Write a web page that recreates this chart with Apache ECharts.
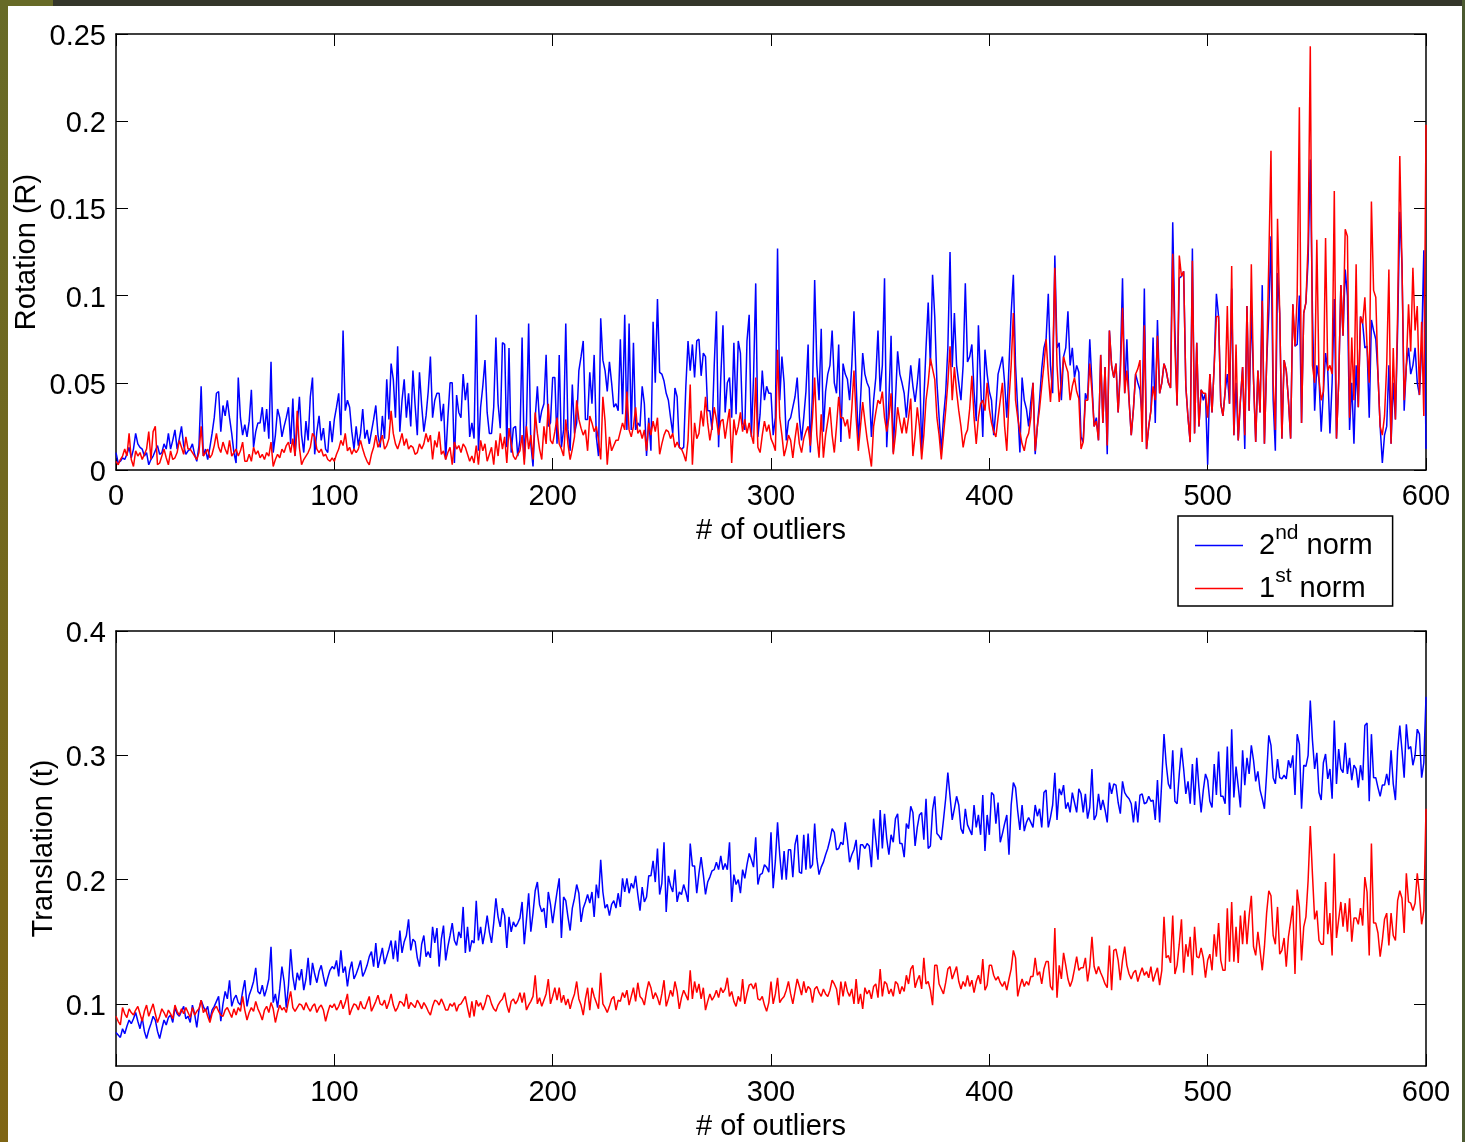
<!DOCTYPE html>
<html>
<head>
<meta charset="utf-8">
<title>Rotation / Translation vs outliers</title>
<script src="https://cdn.jsdelivr.net/npm/echarts@6/dist/echarts.min.js"></script>
<style>
  html, body { margin: 0; padding: 0; background: #fff; }
  #page { position: relative; width: 1465px; height: 1142px; background: #fff; overflow: hidden; }
  #main { position: absolute; left: 0; top: 0; width: 1465px; height: 1142px; }
  .edge { position: absolute; }
  #edgeTop { left: 0; top: 0; width: 1465px; height: 6px; background: #34362a; }
  #edgeCorner { left: 0; top: 0; width: 53px; height: 6px; background: #676a27; }
  #edgeLeft { left: 0; top: 0; width: 8px; height: 1142px; background: linear-gradient(#676a27, #7f6514); }
  #edgeRight { left: 1462px; top: 0; width: 3px; height: 1142px; background: #4b5a31; }
</style>
</head>
<body>
<div id="page">
  <div id="main"></div>
  <div class="edge" id="edgeTop"></div>
  <div class="edge" id="edgeCorner"></div>
  <div class="edge" id="edgeLeft"></div>
  <div class="edge" id="edgeRight"></div>
</div>
<script>
// values in thousandths, one per outlier count 0..600
// prettier-ignore
var rotation2nd = [
  10,4,5,7,6,9,13,7,12,21,15,13,12,8,10,3,6,8,11,14,
  9,10,15,12,21,12,17,23,12,18,25,14,9,11,12,15,9,5,14,48,
  8,12,6,13,21,30,44,45,22,37,31,40,30,21,10,4,53,30,20,26,
  19,28,46,13,22,27,27,36,22,35,18,62,10,20,35,30,19,25,30,36,
  15,41,8,25,42,20,10,28,17,42,53,9,22,31,17,24,12,10,28,16,
  29,36,44,20,80,34,40,36,22,12,25,14,21,35,18,23,15,22,29,37,
  20,13,31,18,52,29,61,52,30,71,22,40,52,30,44,25,57,37,20,56,
  37,22,31,45,65,30,40,44,44,28,38,6,30,50,50,4,43,33,30,55,
  40,50,19,27,18,89,11,36,48,63,33,21,21,36,76,38,24,73,72,13,
  70,10,24,25,8,17,76,6,27,84,15,2,30,48,27,34,38,66,25,27,
  53,53,15,66,13,23,84,23,11,49,21,27,57,65,74,29,29,56,38,66,
  19,8,87,63,57,45,62,50,36,38,34,75,32,89,23,84,23,73,23,27,
  25,48,38,8,30,11,85,50,98,56,55,51,44,40,30,21,47,42,13,12,
  13,48,74,57,72,53,74,75,54,67,65,34,34,23,60,91,13,53,83,33,
  50,53,30,73,32,74,67,27,23,74,89,19,53,107,19,32,57,40,48,44,
  44,20,30,127,40,65,50,17,28,30,36,42,53,30,17,30,45,72,10,45,
  109,60,40,81,22,45,55,60,80,50,44,72,16,61,55,52,40,60,91,50,
  16,40,67,55,50,47,19,40,53,80,45,60,110,13,40,77,10,40,68,55,
  50,44,30,45,60,48,39,50,64,11,40,70,96,60,112,88,50,30,11,30,
  44,70,125,59,90,60,50,40,60,107,62,65,72,45,28,83,50,19,69,55,
  45,40,20,35,55,60,65,50,30,60,90,112,60,35,10,53,40,35,25,39,
  50,9,25,40,58,70,75,101,60,44,123,70,73,40,65,70,91,60,70,53,
  60,56,19,16,44,40,75,50,25,30,17,66,27,59,9,80,60,53,61,33,
  60,110,44,75,40,20,35,55,50,46,30,104,12,25,34,76,27,86,44,50,
  61,57,50,47,142,80,37,110,111,114,48,30,16,127,21,73,25,46,40,44,
  3,55,33,60,101,88,38,31,45,55,38,104,20,50,17,40,59,12,94,34,
  92,52,16,57,33,106,15,61,90,134,40,11,113,90,18,63,57,40,18,95,
  71,72,100,27,90,96,120,178,90,34,60,52,22,45,67,57,21,50,98,18,
  50,106,77,115,100,23,50,15,60,36,88,84,70,71,30,86,80,75,55,25,
  4,20,25,60,15,50,29,80,148,118,34,60,70,55,60,70,50,43,70,126,
  12
];
// prettier-ignore
var rotation1st = [
  5,3,6,8,12,8,21,6,2,11,8,10,6,9,12,22,6,22,25,3,
  4,8,12,7,3,11,6,7,10,17,13,9,19,12,12,10,8,6,10,25,
  8,10,12,7,9,14,21,13,10,16,12,9,17,8,10,12,8,11,16,5,
  5,9,5,13,9,11,7,9,6,10,8,16,2,6,9,7,12,10,14,16,
  10,18,8,34,13,3,6,8,10,13,21,19,12,10,12,8,9,6,5,7,
  5,9,12,17,14,21,11,13,9,12,10,12,17,12,8,5,3,9,13,20,
  13,16,20,12,14,18,34,21,15,12,16,21,14,18,12,14,13,9,10,15,
  12,15,21,16,20,6,17,13,22,9,11,6,10,13,3,16,12,14,10,15,
  13,9,5,8,4,14,3,17,11,15,5,9,13,3,17,8,21,12,19,4,
  24,15,8,6,9,11,20,3,25,12,20,6,33,21,12,6,25,15,38,17,
  15,22,30,15,12,8,29,15,6,12,19,40,29,24,20,23,11,31,27,22,
  25,17,6,42,28,3,19,11,14,17,17,22,27,23,45,23,19,25,36,21,
  23,18,23,11,27,20,28,22,30,9,15,20,23,22,18,21,13,16,13,12,
  9,5,17,49,3,27,18,21,34,25,42,27,17,25,36,29,20,28,29,18,
  27,35,4,29,20,25,33,22,29,21,27,20,15,53,13,10,20,28,22,26,
  18,15,11,69,30,20,8,13,20,17,7,18,27,15,10,18,22,25,14,30,
  53,20,7,32,7,20,28,36,20,10,25,42,30,30,25,29,18,35,57,30,
  11,25,39,28,18,10,2,25,33,40,38,45,30,22,30,44,9,20,36,28,
  21,30,21,30,41,8,20,36,25,6,20,40,50,64,58,52,30,20,6,20,
  34,50,71,40,59,45,34,25,13,20,23,35,54,30,15,30,38,40,34,50,
  35,27,22,19,30,40,50,25,11,40,60,90,40,30,22,15,11,18,21,30,
  50,11,25,35,48,60,75,55,39,60,116,60,39,50,65,60,56,40,48,53,
  45,41,12,16,40,40,61,45,25,28,17,66,27,59,14,80,60,53,61,33,
  55,93,44,57,40,20,35,55,58,63,16,83,12,25,34,48,40,77,44,50,
  61,57,50,47,124,70,37,123,111,114,48,30,16,120,21,73,25,46,44,44,
  30,55,33,60,88,88,38,31,45,94,38,117,20,72,17,40,59,20,94,34,
  118,52,16,57,33,97,15,61,120,183,50,23,144,90,18,63,57,40,18,95,
  71,100,208,27,90,96,130,243,60,50,132,52,40,45,133,57,60,55,160,18,
  50,106,77,138,134,30,76,40,118,36,88,84,99,71,50,154,103,99,55,25,
  20,31,60,115,15,70,29,90,180,118,40,60,95,68,116,80,94,43,85,31,
  198
];
// prettier-ignore
var translation2nd = [
  77,75,73,80,76,82,87,84,88,93,86,80,89,78,72,79,84,90,87,78,
  72,80,87,83,89,91,85,97,92,90,94,98,88,90,85,99,92,81,95,103,
  98,94,98,87,95,98,102,106,86,100,110,104,119,98,104,107,101,99,110,119,
  98,107,112,118,129,110,108,115,106,112,120,146,101,108,97,112,130,118,97,115,
  144,122,111,125,119,128,111,120,137,115,133,124,117,126,131,122,114,121,127,130,
  128,135,122,143,125,130,114,127,134,120,124,129,135,122,126,131,138,142,130,149,
  129,137,145,132,138,144,151,136,151,134,159,141,150,155,168,143,152,150,137,130,
  148,155,138,142,137,162,149,161,130,152,163,135,146,155,165,151,147,158,153,178,
  141,162,142,151,149,183,151,162,148,158,171,158,149,165,185,170,162,177,171,145,
  170,158,166,162,165,169,182,148,168,189,158,173,191,198,180,174,177,161,190,180,
  165,178,190,201,153,186,183,170,159,177,185,196,189,166,177,182,188,181,190,170,
  196,185,216,190,177,180,171,180,183,177,189,178,201,190,201,189,197,193,203,188,
  175,194,182,186,203,203,215,198,225,188,197,230,174,203,195,190,208,182,190,188,
  196,190,182,229,211,211,189,205,218,204,188,198,202,207,208,214,208,219,208,213,
  208,230,182,204,196,200,189,208,201,212,221,216,210,234,196,204,205,212,210,206,
  238,193,215,246,220,200,223,200,224,224,202,228,236,206,205,236,208,237,209,212,
  245,217,204,210,214,220,225,232,241,238,224,225,230,228,246,232,214,220,224,232,
  208,228,228,225,229,227,210,249,232,216,256,225,253,233,220,236,230,249,253,229,
  229,218,245,241,259,254,227,242,252,254,232,265,225,227,256,267,237,235,232,248,
  265,286,267,248,257,267,260,241,237,257,244,240,236,260,242,252,236,268,223,252,
  236,270,268,245,262,230,237,245,252,220,260,278,274,255,240,260,239,246,250,246,
  242,260,251,257,242,270,272,242,250,260,286,248,273,268,276,257,262,254,270,262,
  254,273,269,254,269,249,258,289,248,252,269,256,264,256,246,278,269,277,276,262,
  253,279,270,267,265,261,246,263,246,268,269,261,262,267,263,264,248,280,246,280,
  317,293,277,273,304,263,261,285,306,289,269,279,261,293,260,298,274,254,272,285,
  280,263,258,293,268,303,267,267,261,307,252,321,266,291,275,258,304,276,298,285,
  308,296,279,287,272,265,257,285,316,308,282,277,297,282,281,284,281,296,290,300,
  268,317,309,257,292,291,300,344,312,289,302,270,264,294,301,281,289,265,328,277,
  305,289,286,310,285,298,280,292,289,274,292,280,324,326,263,317,282,282,274,267,
  276,276,285,276,304,277,264,304,324,304,282,325,305,307,292,300,321,317,282,294,
  347
];
// prettier-ignore
var translation1st = [
  90,86,83,97,92,89,96,93,91,95,98,92,86,94,99,90,95,100,92,85,
  90,96,93,89,95,92,88,99,94,91,96,92,97,93,89,97,91,94,96,103,
  93,96,90,85,92,96,98,94,91,90,95,97,93,89,96,91,97,94,106,95,
  87,93,97,94,102,96,92,87,95,98,93,101,96,85,93,99,95,97,93,102,
  110,97,94,97,100,99,95,101,97,94,98,100,93,97,99,95,86,93,99,97,
  100,95,98,103,96,101,108,91,96,100,99,95,102,97,96,101,106,94,98,102,
  107,100,99,103,96,101,108,99,94,97,102,101,98,108,96,101,99,97,103,100,
  96,101,98,94,91,98,103,102,99,104,100,95,95,100,98,101,94,99,100,103,
  106,97,89,102,90,103,98,101,95,100,107,106,100,96,94,99,102,104,109,99,
  93,102,104,100,103,109,101,109,95,99,102,106,123,100,105,98,103,108,120,100,
  106,113,103,113,101,107,99,104,96,103,108,118,104,99,91,104,113,95,113,106,
  101,96,125,100,97,93,98,104,106,95,103,102,109,105,111,99,106,113,102,117,
  106,104,99,110,118,113,104,109,105,99,108,119,98,104,111,106,118,110,96,105,
  111,107,103,127,104,118,109,116,104,113,95,102,108,103,106,111,105,113,109,112,
  121,106,110,102,98,106,102,120,100,108,115,116,112,117,104,103,106,99,94,101,
  118,100,108,121,101,104,106,111,118,108,100,110,120,114,107,118,109,114,112,101,
  112,114,109,106,112,108,106,111,119,116,112,99,118,106,118,110,106,112,100,120,
  100,108,96,113,108,111,104,114,116,105,128,106,118,116,108,112,106,118,116,108,
  114,110,123,116,128,131,113,119,123,112,137,116,118,111,99,131,131,116,112,108,
  117,128,130,120,125,130,118,112,118,114,123,114,119,109,118,123,116,136,111,115,
  131,131,123,119,122,117,114,118,111,120,128,143,137,106,114,120,114,118,115,122,
  122,137,123,126,116,128,134,134,114,111,161,105,131,120,141,131,120,114,119,128,
  138,127,129,129,137,118,130,154,130,124,130,125,121,116,113,147,111,143,144,135,
  119,135,146,131,124,120,125,127,118,124,129,123,126,121,130,118,124,129,115,127,
  170,137,139,133,171,124,131,148,168,125,148,138,154,123,162,138,137,145,137,121,
  135,140,127,156,138,165,135,127,127,177,134,182,134,162,133,171,148,175,148,171,
  187,146,139,158,143,127,146,173,191,187,155,148,178,140,143,153,130,154,166,179,
  124,192,178,135,162,170,199,243,204,168,175,151,148,148,198,156,173,139,221,153,
  168,182,162,181,158,185,150,169,169,164,177,163,202,190,139,229,165,165,157,138,
  151,168,173,147,173,155,151,183,191,185,157,205,182,181,175,181,205,188,164,175,
  257
];
var translationTicks = [0.1, 0.2, 0.3, 0.4];

var FONT = '"Liberation Sans", Arial, Helvetica, sans-serif';

function points(arr) {
  return arr.map(function (v, i) {
    return [i, v / 1000];
  });
}

function xAxisFor(gridIndex, position, withLabels) {
  return {
    type: "value",
    gridIndex: gridIndex,
    position: position,
    min: 0,
    max: 600,
    interval: 100,
    name: withLabels ? "# of outliers" : "",
    nameLocation: "middle",
    nameGap: 46,
    nameMoveOverlap: false,
    nameTextStyle: { color: "#000", fontSize: 29, fontFamily: FONT },
    axisLine: { show: true, onZero: false, lineStyle: { color: "#000", width: 1.5 } },
    axisTick: { show: true, inside: true, length: 12, lineStyle: { color: "#000", width: 1 } },
    axisLabel: { show: withLabels, color: "#000", fontSize: 29, fontFamily: FONT, margin: 12 },
    splitLine: { show: false }
  };
}

function yAxisFor(gridIndex, position, range, name, nameGap) {
  var axis = {
    type: "value",
    gridIndex: gridIndex,
    position: position,
    min: range[0],
    max: range[1],
    name: name,
    nameLocation: "middle",
    nameGap: nameGap,
    nameMoveOverlap: false,
    nameTextStyle: { color: "#000", fontSize: 29, fontFamily: FONT },
    axisLine: { show: true, onZero: false, lineStyle: { color: "#000", width: 1.5 } },
    axisTick: { show: true, inside: true, length: 12, lineStyle: { color: "#000", width: 1 } },
    axisLabel: {
      show: position === "left",
      margin: 10,
      formatter: function (v) {
        return "{v|" + parseFloat(v.toFixed(3)) + "}";
      },
      rich: {
        v: { color: "#000", fontSize: 29, fontFamily: FONT, padding: [6, 0, 0, 0] }
      }
    },
    splitLine: { show: false }
  };
  if (range[2]) {
    axis.interval = range[2];
  } else {
    axis.axisLabel.customValues = translationTicks;
    axis.axisTick.customValues = translationTicks;
  }
  return axis;
}

function lineSeries(name, color, xi, yi, arr) {
  return {
    name: name,
    type: "line",
    xAxisIndex: xi,
    yAxisIndex: yi,
    symbol: "none",
    showSymbol: false,
    lineStyle: { color: color, width: 1.5 },
    itemStyle: { color: color },
    emphasis: { disabled: true },
    data: points(arr)
  };
}

var myChart = echarts.init(document.getElementById("main"), null, { renderer: "canvas" });

var option = {
  animation: false,
  backgroundColor: "transparent",
  grid: [
    { left: 116, top: 34, width: 1310, height: 436 },
    { left: 116, top: 631, width: 1310, height: 436 }
  ],
  xAxis: [
    xAxisFor(0, "bottom", true),
    xAxisFor(0, "top", false),
    xAxisFor(1, "bottom", true),
    xAxisFor(1, "top", false)
  ],
  yAxis: [
    yAxisFor(0, "left", [0, 0.25, 0.05], "Rotation (R)", 75),
    yAxisFor(0, "right", [0, 0.25, 0.05], "", 0),
    yAxisFor(1, "left", [0.05, 0.4, 0], "Translation (t)", 58),
    yAxisFor(1, "right", [0.05, 0.4, 0], "", 0)
  ],
  legend: {
    left: 1178,
    top: 516,
    orient: "vertical",
    data: ["2nd norm", "1st norm"],
    icon: "rect",
    itemWidth: 48,
    itemHeight: 1.5,
    itemGap: 6,
    padding: [7, 20, 3, 17],
    borderColor: "#000",
    borderWidth: 1.5,
    borderRadius: 0,
    backgroundColor: "#fff",
    selectedMode: false,
    formatter: function (name) {
      return name === "2nd norm"
        ? "{f|2}{s|nd}{a| norm}"
        : "{f|1}{s|st}{a| norm}";
    },
    textStyle: {
      color: "#000",
      fontFamily: FONT,
      rich: {
        f: { fontSize: 29, fontFamily: FONT, color: "#000", padding: [0, 0, 0, 11] },
        a: { fontSize: 29, fontFamily: FONT, color: "#000" },
        s: { fontSize: 21, fontFamily: FONT, color: "#000", verticalAlign: "top", padding: [0, 0, 24, 0] }
      }
    }
  },
  series: [
    lineSeries("2nd norm", "#0000ff", 0, 0, rotation2nd),
    lineSeries("1st norm", "#ff0000", 0, 0, rotation1st),
    lineSeries("2nd norm", "#0000ff", 2, 2, translation2nd),
    lineSeries("1st norm", "#ff0000", 2, 2, translation1st)
  ]
};

option && myChart.setOption(option);
</script>
</body>
</html>
